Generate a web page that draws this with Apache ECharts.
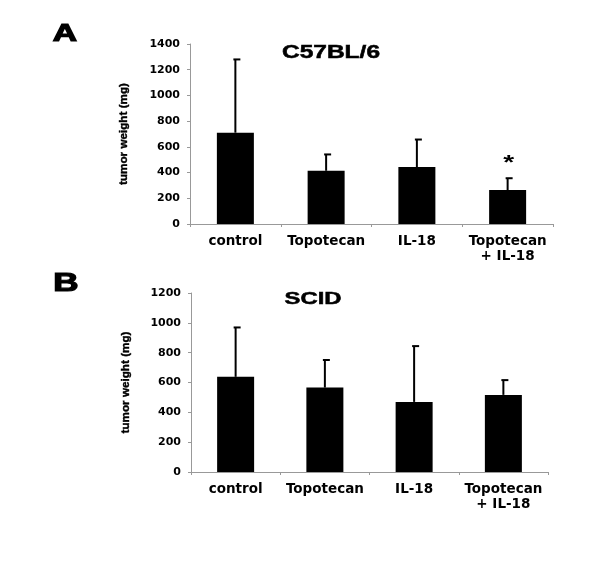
<!DOCTYPE html>
<html><head><meta charset="utf-8">
<script src="https://cdn.jsdelivr.net/npm/echarts@6/dist/echarts.min.js"></script>
<style>html,body{margin:0;padding:0;background:#fff}#c{width:600px;height:567px}</style>
</head><body><div id="c"></div>
<script>
const categories = ['control', 'Topotecan', 'IL-18', 'Topotecan\n+ IL-18'];
const valuesA = [710, 414, 443, 264];
const errorsA = [570, 127, 214, 92];
const marksA = ['', '', '', '*'];
const valuesB = [638, 566, 470, 517];
const errorsB = [331, 185, 374, 99];
const marksB = ['', '', '', ''];
const ticksA = { min: 0, max: 1400, interval: 200 };
const ticksB = { min: 0, max: 1200, interval: 200 };

const FONT = 'Liberation Sans';
const WIDE = 'DejaVu Sans';
const STRETCH = 1.4;

function errSeries(idx, vals, errs, marks) {
  return {
    type: 'custom', xAxisIndex: idx, yAxisIndex: idx, z: 5,
    data: vals.map((v, i) => [i, v, v + errs[i]]),
    renderItem: function (params, api) {
      const base = api.coord([api.value(0), api.value(1)]);
      const top = api.coord([api.value(0), api.value(2)]);
      const mark = marks[params.dataIndex];
      const children = [
        { type: 'line', shape: { x1: base[0], y1: base[1], x2: top[0], y2: top[1] }, style: { stroke: '#000', lineWidth: 2 } },
        { type: 'line', shape: { x1: top[0] - 2, y1: top[1], x2: top[0] + 5, y2: top[1] }, style: { stroke: '#000', lineWidth: 2 } }
      ];
      if (mark) {
        children.push({ type: 'text', x: top[0] + 1, y: top[1] - 5, scaleX: STRETCH,
          style: { text: mark, fontFamily: FONT, fontWeight: 'bold', fontSize: 20, fill: '#000', align: 'center', verticalAlign: 'bottom' } });
      }
      return { type: 'group', children: children };
    }
  };
}

function xAxis(idx) {
  return {
    type: 'category', gridIndex: idx, data: categories,
    axisLine: { lineStyle: { color: '#999', width: 1 } },
    axisTick: { show: true, alignWithLabel: false, length: 3, lineStyle: { color: '#999' } },
    axisLabel: { color: '#000', fontFamily: WIDE, fontWeight: 'bold', fontSize: 13.5, lineHeight: 15, margin: 10, interval: 0 }
  };
}
function yAxis(idx, t, gap) {
  return {
    type: 'value', gridIndex: idx, min: t.min, max: t.max, interval: t.interval,
    name: 'tumor weight (mg)', nameLocation: 'middle', nameGap: gap, nameRotate: 90,
    nameTextStyle: { color: '#000', fontFamily: FONT, fontWeight: 'bold', fontSize: 11.7, textBorderColor: '#000', textBorderWidth: 0.4 },
    axisLine: { show: true, lineStyle: { color: '#999', width: 1 } },
    axisTick: { show: true, length: 3, lineStyle: { color: '#999' } },
    splitLine: { show: false },
    axisLabel: { color: '#000', fontFamily: WIDE, fontWeight: 'bold', fontSize: 11, margin: 10,
      formatter: function (v) { return String(v); } }
  };
}

function bigText(text, x, y, size, border) {
  return { type: 'text', x: x, y: y, scaleX: STRETCH, z: 10,
    style: { text: text, fontFamily: FONT, fontWeight: 'bold', fontSize: size, fill: '#000',
      stroke: '#000', lineWidth: border, align: 'center', verticalAlign: 'middle' } };
}

const chart = echarts.init(document.getElementById('c'), null, { renderer: 'canvas' });
chart.setOption({
  backgroundColor: '#fff',
  animation: false,
  graphic: [
    bigText('A', 65, 34, 24, 1.2),
    bigText('C57BL/6', 331, 53, 17.5, 0.5),
    bigText('B', 66, 284, 25, 1.2),
    bigText('SCID', 313, 299, 17, 0.5)
  ],
  grid: [
    { left: 190, width: 363, top: 44, height: 180 },
    { left: 191, width: 357, top: 293, height: 179 }
  ],
  xAxis: [xAxis(0), xAxis(1)],
  yAxis: [yAxis(0, ticksA, 60), yAxis(1, ticksB, 59)],
  series: [
    { type: 'bar', xAxisIndex: 0, yAxisIndex: 0, data: valuesA, barWidth: 37, itemStyle: { color: '#000' } },
    errSeries(0, valuesA, errorsA, marksA),
    { type: 'bar', xAxisIndex: 1, yAxisIndex: 1, data: valuesB, barWidth: 37, itemStyle: { color: '#000' } },
    errSeries(1, valuesB, errorsB, marksB)
  ]
});
</script></body></html>
